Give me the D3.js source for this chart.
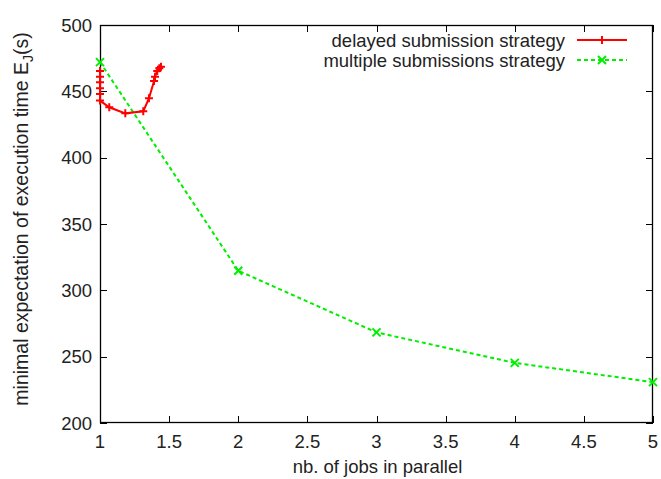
<!DOCTYPE html>
<html><head><meta charset="utf-8">
<script src="https://cdn.jsdelivr.net/npm/d3@7"></script>
<style>body{margin:0;background:#fff}svg{display:block}text{font-family:"Liberation Sans",Arial,sans-serif}</style>
</head><body>
<script>
const delayedX = [1, 1, 1, 1, 1, 1, 1.067, 1.183, 1.313, 1.354, 1.391, 1.398, 1.414, 1.429, 1.441];
const delayedY = [465.3, 461, 456.8, 452.3, 448, 443, 438, 433.4, 435, 444.7, 457.8, 461, 465.3, 467.4, 468.6];
const multipleX = [1, 2, 3, 4, 5];
const multipleY = [472, 314.8, 268.3, 245.3, 230.8];
const xTicks = [1, 1.5, 2, 2.5, 3, 3.5, 4, 4.5, 5];
const yTicks = [200, 250, 300, 350, 400, 450, 500];
const seriesNames = ["delayed submission strategy", "multiple submissions strategy"];

const W = 661, H = 479;
const L = 100, R = 653, T = 25, B = 423;
const svg = d3.select("body").append("svg").attr("width", W).attr("height", H);
const x = d3.scaleLinear().domain([1, 5]).range([L, R]);
const y = d3.scaleLinear().domain([200, 500]).range([B, T]);
const fs = 18.5;

const tl = 7;
const g = svg.append("g").attr("stroke", "#000").attr("stroke-width", 1);
xTicks.forEach(v => {
  const px = Math.round(x(v)) + 0.5;
  g.append("line").attr("x1", px).attr("x2", px).attr("y1", B).attr("y2", B - tl);
  g.append("line").attr("x1", px).attr("x2", px).attr("y1", T).attr("y2", T + tl);
});
yTicks.forEach(v => {
  const py = Math.round(y(v)) + 0.5;
  g.append("line").attr("x1", L).attr("x2", L + tl).attr("y1", py).attr("y2", py);
  g.append("line").attr("x1", R).attr("x2", R - tl).attr("y1", py).attr("y2", py);
});
svg.append("rect").attr("x", L + 0.5).attr("y", T + 0.5).attr("width", R - L - 1).attr("height", B - T - 1)
  .attr("fill", "none").attr("stroke", "#000").attr("stroke-width", 1.3);

xTicks.forEach(v => {
  svg.append("text").attr("x", x(v)).attr("y", B + 25).attr("text-anchor", "middle")
    .attr("font-size", fs).attr("fill", "#222").text(d3.format("")(v));
});
yTicks.forEach(v => {
  svg.append("text").attr("x", L - 8).attr("y", y(v) + 6.5).attr("text-anchor", "end")
    .attr("font-size", fs).attr("fill", "#222").text(v);
});

svg.append("text").attr("x", (L + R) / 2 + 1).attr("y", 473).attr("text-anchor", "middle")
  .attr("font-size", fs).attr("fill", "#222").text("nb. of jobs in parallel");
const yt = svg.append("text").attr("transform", `translate(28,${(T + B) / 2 - 5}) rotate(-90)`)
  .attr("text-anchor", "middle").attr("font-size", 19.5).attr("fill", "#222");
yt.append("tspan").text("minimal expectation of execution time E");
yt.append("tspan").attr("font-size", 14).attr("dy", 5).text("J");
yt.append("tspan").attr("dy", -5).text("(s)");

const red = "#ff0000", green = "#00ee00";
const dData = delayedX.map((v, i) => [v, delayedY[i]]);
const mData = multipleX.map((v, i) => [v, multipleY[i]]);
const line = d3.line().x(d => x(d[0])).y(d => y(d[1]));

svg.append("path").datum(mData).attr("d", line).attr("fill", "none").attr("stroke", green)
  .attr("stroke-width", 2).attr("stroke-dasharray", "4,3");
svg.append("path").datum(dData).attr("d", line).attr("fill", "none").attr("stroke", red)
  .attr("stroke-width", 2);

function plus(sel, cx, cy, c) {
  sel.append("path").attr("d", `M${cx - 4},${cy}H${cx + 4}M${cx},${cy - 4}V${cy + 4}`)
    .attr("stroke", c).attr("stroke-width", 2).attr("fill", "none");
}
function cross(sel, cx, cy, c) {
  sel.append("path").attr("d", `M${cx - 4},${cy - 4}L${cx + 4},${cy + 4}M${cx - 4},${cy + 4}L${cx + 4},${cy - 4}`)
    .attr("stroke", c).attr("stroke-width", 2).attr("fill", "none");
}
dData.forEach(d => plus(svg, x(d[0]), y(d[1]), red));
mData.forEach(d => cross(svg, x(d[0]), y(d[1]), green));

const lx1 = 577, lx2 = 627, ly = [40, 60];
svg.append("text").attr("x", 565).attr("y", ly[0] + 7).attr("text-anchor", "end").attr("font-size", fs).attr("fill", "#222").text(seriesNames[0]);
svg.append("text").attr("x", 565).attr("y", ly[1] + 7).attr("text-anchor", "end").attr("font-size", fs).attr("fill", "#222").text(seriesNames[1]);
svg.append("line").attr("x1", lx1).attr("x2", lx2).attr("y1", ly[0]).attr("y2", ly[0]).attr("stroke", red).attr("stroke-width", 2);
plus(svg, (lx1 + lx2) / 2, ly[0], red);
svg.append("line").attr("x1", lx1).attr("x2", lx2).attr("y1", ly[1]).attr("y2", ly[1]).attr("stroke", green).attr("stroke-width", 2).attr("stroke-dasharray", "4,3");
cross(svg, (lx1 + lx2) / 2, ly[1], green);
</script>
</body></html>
